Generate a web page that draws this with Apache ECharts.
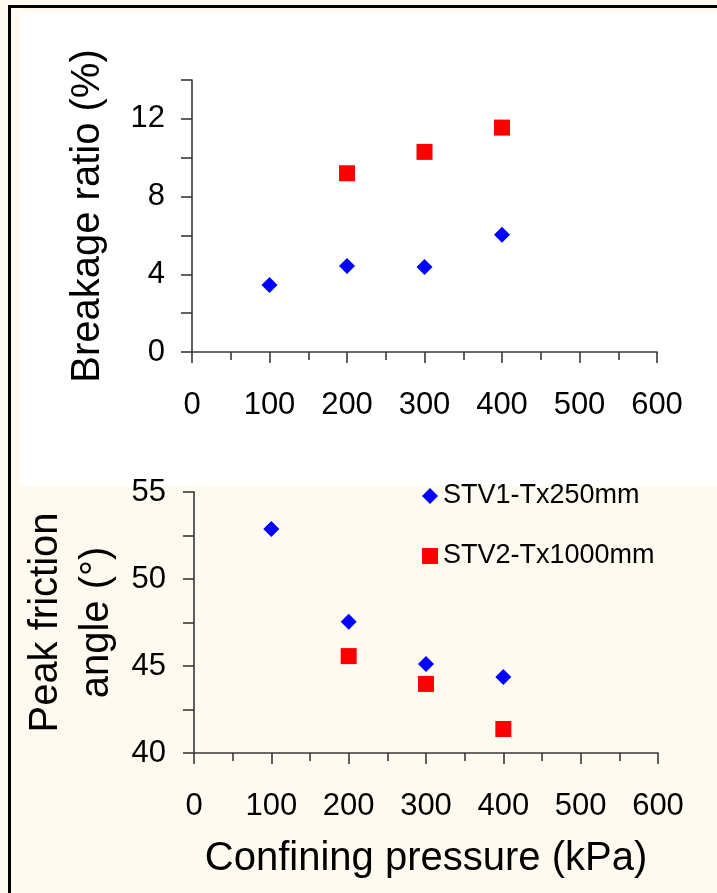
<!DOCTYPE html>
<html>
<head>
<meta charset="utf-8">
<script src="https://cdn.jsdelivr.net/npm/echarts@6/dist/echarts.min.js"></script>
<style>
  html, body { margin: 0; padding: 0; background: #fefaf0; }
  #frame {
    position: absolute; left: 8px; top: 5px; width: 709px; height: 888px;
    border-left: 3px solid #000; border-top: 3px solid #000; box-sizing: border-box;
  }
  #panel { position: absolute; left: 20px; top: 12px; width: 697px; height: 474px; background: #fff; }
  #main { position: absolute; left: 0; top: 0; width: 717px; height: 893px; }
</style>
</head>
<body>
<div id="frame"></div>
<div id="panel"></div>
<div id="main"></div>
<script>
// 围压 (kPa)
const pressure = [100, 200, 300, 400];
const pressure2 = [200, 300, 400];
// 破碎率 (%)
const breakSTV1 = [3.45, 4.43, 4.38, 6.03];
const breakSTV2 = [9.2, 10.3, 11.55];
// 峰值摩擦角 (°)
const phiSTV1 = [52.87, 47.55, 45.12, 44.37];
const phiSTV2 = [45.57, 43.97, 41.38];

const names = ['STV1-Tx250mm', 'STV2-Tx1000mm'];
const font = 'Liberation Sans, Arial, sans-serif';

const pairs = (xs, ys) => xs.map((x, i) => [x, ys[i]]);

var myChart = echarts.init(document.getElementById('main'));

const axisCommon = {
    axisLine: { show: true, lineStyle: { color: '#383838', width: 1.6 } },
    axisTick: { show: true, inside: false, length: 11, lineStyle: { color: '#383838', width: 1.6 } },
    splitLine: { show: false },
    axisLabel: { color: '#000', fontSize: 31, fontFamily: font },
    nameTextStyle: { color: '#000', fontSize: 40, fontFamily: font },
    nameMoveOverlap: false
};

const xAxisOf = (gridIndex, withName) => Object.assign({}, axisCommon, {
    type: 'value', gridIndex: gridIndex, min: 0, max: 600, interval: 100,
    minorTick: { show: true, splitNumber: 2, length: 8, lineStyle: { color: '#383838', width: 1.6 } },
    axisLabel: Object.assign({}, axisCommon.axisLabel, { margin: 38 }),
    name: withName ? 'Confining pressure (kPa)' : '',
    nameLocation: 'middle',
    nameGap: 86
});

// 散点样式
const blue = { color: '#0000ff', opacity: 1 };
const red = { color: '#ff0000', opacity: 1 };

const option = {
    animation: false,
    grid: [
        { left: 192, width: 465, top: 80, height: 272, outerBoundsMode: 'none' },
        { left: 194, width: 464, top: 492, height: 261, outerBoundsMode: 'none' }
    ],
    legend: {
        orient: 'vertical',
        left: 417,
        top: 476,
        itemWidth: 16,
        itemHeight: 16,
        itemGap: 30,
        textStyle: { color: '#000', fontSize: 27, fontFamily: font, lineHeight: 30 },
        data: names
    },
    xAxis: [xAxisOf(0, false), xAxisOf(1, true)],
    yAxis: [
        Object.assign({}, axisCommon, {
            type: 'value', gridIndex: 0, min: 0, max: 14, interval: 2,
            axisLabel: Object.assign({}, axisCommon.axisLabel, {
                margin: 27,
                formatter: v => (v % 4 === 0 ? String(v) : '')
            }),
            name: 'Breakage ratio (%)',
            nameLocation: 'middle',
            nameGap: 84
        }),
        Object.assign({}, axisCommon, {
            type: 'value', gridIndex: 1, min: 40, max: 55, interval: 5,
            minorTick: { show: true, splitNumber: 2, length: 11, lineStyle: { color: '#383838', width: 1.6 } },
            axisLabel: Object.assign({}, axisCommon.axisLabel, { margin: 28 }),
            name: 'Peak friction\nangle (°)',
            nameLocation: 'middle',
            nameGap: 72,
            nameTextStyle: Object.assign({}, axisCommon.nameTextStyle, { lineHeight: 51 })
        })
    ],
    series: [
        {
            name: names[0], type: 'scatter', xAxisIndex: 0, yAxisIndex: 0,
            symbol: 'diamond', symbolSize: 16, itemStyle: blue,
            data: pairs(pressure, breakSTV1)
        },
        {
            name: names[1], type: 'scatter', xAxisIndex: 0, yAxisIndex: 0,
            symbol: 'rect', symbolSize: 16, itemStyle: red,
            data: pairs(pressure2, breakSTV2)
        },
        {
            name: names[0], type: 'scatter', xAxisIndex: 1, yAxisIndex: 1,
            symbol: 'diamond', symbolSize: 16, itemStyle: blue,
            data: pairs(pressure, phiSTV1)
        },
        {
            name: names[1], type: 'scatter', xAxisIndex: 1, yAxisIndex: 1,
            symbol: 'rect', symbolSize: 16, itemStyle: red,
            data: pairs(pressure2, phiSTV2)
        }
    ]
};

myChart.setOption(option);
window.addEventListener('resize', myChart.resize);
</script>
</body>
</html>
